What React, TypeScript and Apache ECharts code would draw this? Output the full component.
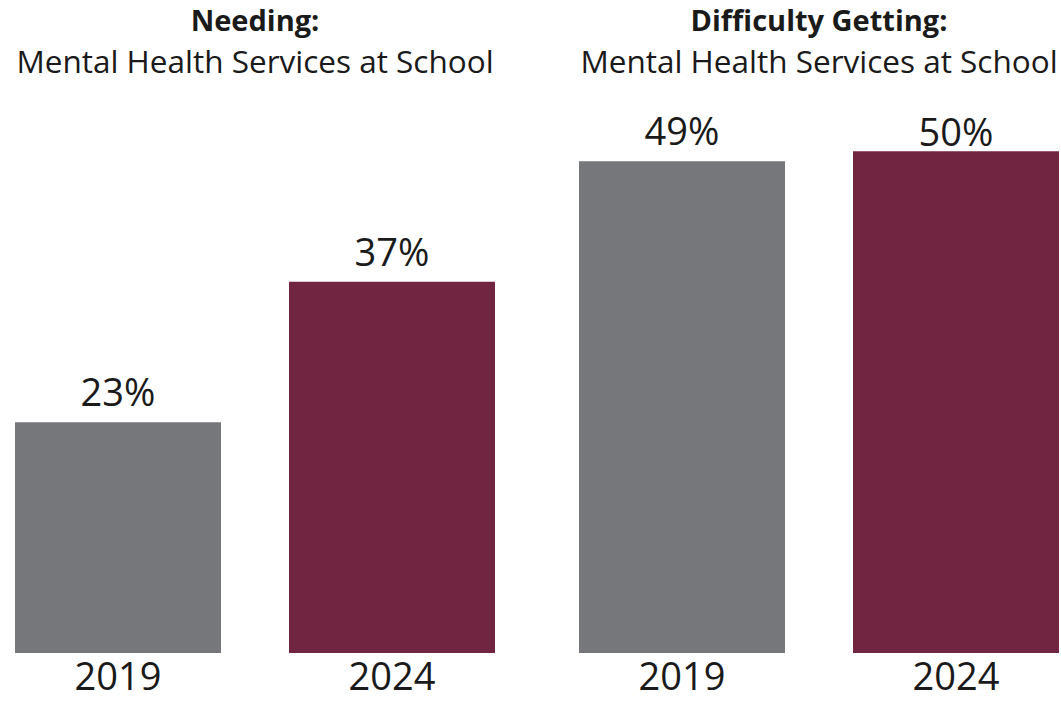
import React, { useEffect, useRef } from "react";
import * as echarts from "echarts";

const years = ["2019", "2024"];
const needingValues = [23, 37];
const difficultyValues = [49, 50];
const panelTitles = ["Needing:", "Difficulty Getting:"];
const panelSubtitle = "Mental Health Services at School";
const barColors = ["#76777b", "#722541"];

const FONT = "'Open Sans', sans-serif";

export default function App() {
  const ref = useRef<HTMLDivElement>(null);
  useEffect(() => {
    if (!ref.current) return;
    const chart = echarts.init(ref.current, null, { renderer: "svg" });
    const grids = [
      { left: 118, width: 274, top: 51, bottom: 52 },
      { left: 682, width: 274, top: 51, bottom: 52 },
    ];
    const mkSeries = (vals: number[], idx: number) => ({
      type: "bar",
      xAxisIndex: idx,
      yAxisIndex: idx,
      barWidth: 206,
      clip: false,
      data: vals.map((v, i) => ({
        value: v,
        itemStyle: { color: barColors[i] },
        label: v >= 50 ? { distance: 1 } : undefined,
      })),
      label: {
        show: true,
        position: "top",
        distance: 12,
        formatter: (p: any) => `${p.value}%`,
        fontFamily: FONT,
        fontSize: 38,
        color: "#1a1a1a",
      },
    });
    const mkTitle = (text: string, center: number) => ({
      text,
      subtext: panelSubtitle,
      left: center,
      top: 5,
      padding: 0,
      textAlign: "center",
      itemGap: 10,
      textStyle: { fontFamily: FONT, fontWeight: "bold", fontSize: 29, color: "#1a1a1a" },
      subtextStyle: { fontFamily: FONT, fontSize: 31.5, color: "#1a1a1a" },
    });
    chart.setOption({
      animation: false,
      title: [mkTitle(panelTitles[0], 255), mkTitle(panelTitles[1], 819)],
      grid: grids,
      xAxis: [0, 1].map((i) => ({
        type: "category",
        gridIndex: i,
        data: years,
        boundaryGap: false,
        axisLine: { show: false },
        axisTick: { show: false },
        splitLine: { show: false },
        axisLabel: { margin: 3, fontFamily: FONT, fontSize: 38, color: "#1a1a1a" },
      })),
      yAxis: [0, 1].map((i) => ({
        type: "value",
        gridIndex: i,
        min: 0,
        max: 60,
        show: false,
        splitLine: { show: false },
      })),
      series: [mkSeries(needingValues, 0), mkSeries(difficultyValues, 1)],
    });
    return () => chart.dispose();
  }, []);
  return (
    <div
      ref={ref}
      style={{ position: "fixed", left: 0, top: 0, width: 1061, height: 705, background: "#fff" }}
    />
  );
}
